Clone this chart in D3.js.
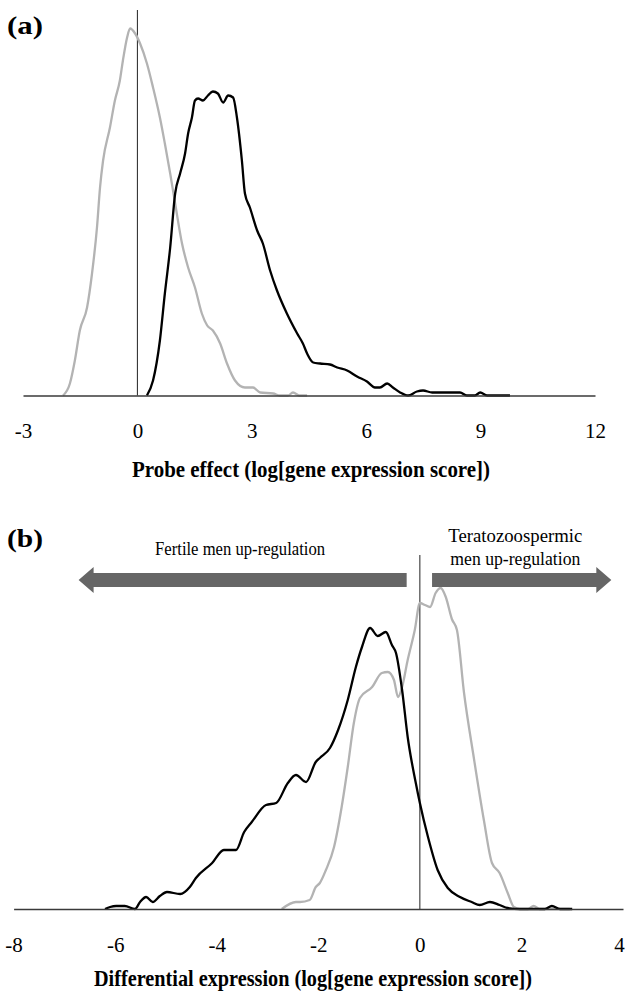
<!DOCTYPE html>
<html>
<head>
<meta charset="utf-8">
<script src="https://cdn.jsdelivr.net/npm/d3@7"></script>
<style>
  body { margin: 0; background: #fff; }
  text { font-family: "Liberation Serif", "Times New Roman", serif; fill: #000; }
</style>
</head>
<body>
<svg id="fig" width="627" height="993"></svg>
<script>
// (a) probe effect, density curves  [log score, density]
var aGray = [[-1.95,0],[-1.77,0.012],[-1.64,0.035],[-1.51,0.065],[-1.32,0.088],[-1.19,0.122],[-1.06,0.168],
  [-0.98,0.208],[-0.90,0.235],[-0.72,0.268],[-0.59,0.295],[-0.46,0.315],[-0.38,0.335],[-0.27,0.358],
  [-0.19,0.367],[-0.06,0.362],[0.07,0.352],[0.25,0.332],[0.41,0.308],[0.59,0.278],[0.72,0.252],
  [0.86,0.222],[0.99,0.192],[1.17,0.152],[1.33,0.128],[1.51,0.108],[1.69,0.082],[1.83,0.070],
  [1.98,0.065],[2.17,0.052],[2.35,0.032],[2.56,0.015],[2.82,0.008],[3.03,0.008],[3.22,0.003],
  [3.56,0.002],[3.74,0],[3.95,0],[4.08,0.003],[4.25,0],[4.45,0]];
var aBlack = [[0.25,0],[0.41,0.015],[0.59,0.055],[0.72,0.102],[0.86,0.148],[0.99,0.202],[1.12,0.222],
  [1.25,0.242],[1.33,0.262],[1.43,0.278],[1.51,0.295],[1.59,0.297],[1.72,0.295],[1.85,0.300],
  [1.98,0.304],[2.11,0.302],[2.25,0.293],[2.38,0.300],[2.51,0.298],[2.61,0.278],[2.74,0.235],
  [2.82,0.202],[2.95,0.188],[3.14,0.165],[3.29,0.152],[3.48,0.125],[3.66,0.105],[3.92,0.082],
  [4.19,0.062],[4.34,0.052],[4.45,0.042],[4.61,0.033],[4.79,0.032],[5.05,0.031],[5.24,0.028],
  [5.50,0.025],[5.76,0.019],[6.02,0.014],[6.23,0.008],[6.36,0.008],[6.55,0.012],[6.70,0.008],
  [6.89,0.003],[7.10,0],[7.33,0.004],[7.49,0.005],[7.73,0.003],[8.46,0.003],[8.64,0],[8.85,0],
  [8.99,0.003],[9.17,0],[9.77,0]];

// (b) differential expression  [log score, density]
var bBlack = [[-6.20,0],[-6.10,0.002],[-5.98,0.003],[-5.81,0.003],[-5.61,0],[-5.51,0.007],[-5.39,0.012],
  [-5.26,0.007],[-5.12,0.013],[-4.98,0.017],[-4.72,0.015],[-4.53,0.022],[-4.41,0.031],[-4.09,0.046],
  [-3.86,0.059],[-3.62,0.059],[-3.46,0.077],[-3.31,0.087],[-3.03,0.104],[-2.83,0.106],[-2.60,0.126],
  [-2.44,0.134],[-2.24,0.127],[-2.05,0.147],[-1.97,0.151],[-1.77,0.161],[-1.61,0.179],[-1.42,0.209],
  [-1.26,0.242],[-1.14,0.262],[-0.98,0.281],[-0.83,0.273],[-0.67,0.277],[-0.55,0.264],[-0.47,0.256],
  [-0.35,0.219],[-0.24,0.172],[-0.08,0.126],[0,0.106],[0.16,0.072],[0.35,0.039],[0.55,0.021],
  [0.79,0.012],[1.02,0.007],[1.18,0.004],[1.38,0.007],[1.57,0.004],[1.73,0.001],[1.97,0],[2.46,0],
  [2.60,0.003],[2.76,0],[3.00,0]];
var bGray = [[-2.72,0],[-2.44,0.007],[-2.36,0.007],[-2.17,0.009],[-2.05,0.022],[-1.97,0.026],[-1.85,0.039],
  [-1.69,0.062],[-1.54,0.102],[-1.42,0.142],[-1.30,0.186],[-1.18,0.211],[-0.94,0.222],[-0.75,0.236],
  [-0.63,0.237],[-0.51,0.229],[-0.43,0.212],[-0.35,0.222],[-0.24,0.249],[-0.10,0.279],[0,0.306],
  [0.10,0.304],[0.20,0.302],[0.31,0.316],[0.41,0.321],[0.51,0.312],[0.63,0.290],[0.73,0.279],
  [0.87,0.216],[1.06,0.152],[1.26,0.089],[1.42,0.046],[1.57,0.036],[1.73,0.016],[1.85,0.002],
  [1.97,0],[2.13,0],[2.24,0.003],[2.36,0],[2.95,0]];

var ticksA = [-3, 0, 3, 6, 9, 12];
var ticksB = [-8, -6, -4, -2, 0, 2, 4];
var titleA = "Probe effect (log[gene expression score])";
var titleB = "Differential expression (log[gene expression score])";
var leftArrowLabel = "Fertile men up-regulation";
var rightArrowLabel = ["Teratozoospermic", "men up-regulation"];
// arrow extents in log score, at density level
var leftArrow = [-0.26, -6.72], rightArrow = [0.24, 3.77], arrowLevel = 0.329;

var svg = d3.select("#fig");
var grayCol = "#b3b3b3", arrowCol = "#666666";

function panel(cfg){
	var x = d3.scaleLinear().domain(cfg.xDomain).range(cfg.xRange);
	var y = d3.scaleLinear().domain([0, cfg.yMax]).range([cfg.base, cfg.top]);
	var g = svg.append("g");

	var line = d3.line().x(function(d){ return x(d[0]); }).y(function(d){ return y(d[1]); })
		.curve(d3.curveMonotoneX);

	// zero line
	g.append("line").attr("x1", x(0)).attr("x2", x(0)).attr("y1", y(0)).attr("y2", y(cfg.yMax))
		.attr("stroke", "#222").attr("stroke-width", 1);

	cfg.series.forEach(function(s){
		g.append("path").datum(s.data).attr("d", line)
			.attr("fill", "none").attr("stroke", s.color).attr("stroke-width", 2.3)
			.attr("stroke-linejoin", "round");
	});

	var ax = g.append("g").attr("transform", "translate(0," + cfg.base + ")")
		.call(d3.axisBottom(x).tickValues(cfg.ticks).tickSize(0).tickSizeOuter(0).tickPadding(28)
			.tickFormat(function(d){ return String(d); }));
	ax.select(".domain").attr("stroke", "#3a3a3a").attr("stroke-width", 1.6);
	ax.selectAll("text").attr("font-size", 21).attr("fill", "#000");
	// last label sits on the right edge of the page
	ax.selectAll(".tick").filter(function(d){ return d === cfg.xDomain[1]; }).select("text").attr("dx", cfg.lastDx);

	g.append("text").attr("x", cfg.titleX).attr("y", cfg.titleY).attr("text-anchor", "middle")
		.attr("font-weight", "bold").attr("font-size", 23)
		.attr("textLength", cfg.titleW).attr("lengthAdjust", "spacingAndGlyphs").text(cfg.title);

	g.append("text").attr("x", 7).attr("y", cfg.tagY).attr("font-weight", "bold").attr("font-size", 26)
		.attr("textLength", 36).attr("lengthAdjust", "spacingAndGlyphs").text(cfg.tag);
	return {x: x, y: y, g: g};
}

panel({
	xDomain: [-3, 12], xRange: [23, 595], yMax: 0.3855, base: 395.5, top: 10,
	ticks: ticksA, title: titleA, titleX: 311, titleY: 477, titleW: 358, tag: "(a)", tagY: 34, lastDx: 0,
	series: [{data: aGray, color: grayCol}, {data: aBlack, color: "#000"}]
});

var pb = panel({
	xDomain: [-8, 4], xRange: [13.6, 623], yMax: 0.354, base: 909, top: 555,
	ticks: ticksB, title: titleB, titleX: 313, titleY: 986, titleW: 438, tag: "(b)", tagY: 547, lastDx: -4,
	series: [{data: bGray, color: grayCol}, {data: bBlack, color: "#000"}]
});

// direction arrows
function arrow(g, x0, x1, yy){
	var dir = x1 > x0 ? 1 : -1, half = 7, headH = 13, headL = 15;
	var xb = x1 - dir * headL;
	var pts = [[x0, yy - half], [xb, yy - half], [xb, yy - headH], [x1, yy], [xb, yy + headH], [xb, yy + half], [x0, yy + half]];
	g.append("polygon").attr("points", pts.map(function(p){ return p.join(","); }).join(" "))
		.attr("fill", arrowCol);
}
arrow(pb.g, pb.x(leftArrow[0]), pb.x(leftArrow[1]), pb.y(arrowLevel));
arrow(pb.g, pb.x(rightArrow[0]), pb.x(rightArrow[1]), pb.y(arrowLevel));

pb.g.append("text").attr("x", pb.x(-3.54)).attr("y", 555).attr("text-anchor", "middle")
	.attr("font-size", 18).attr("textLength", 170).attr("lengthAdjust", "spacingAndGlyphs")
	.text(leftArrowLabel);
pb.g.selectAll(".rlab").data(rightArrowLabel).enter().append("text")
	.attr("x", pb.x(1.88)).attr("y", function(d, i){ return 542 + i * 23; })
	.attr("text-anchor", "middle").attr("font-size", 18)
	.attr("textLength", function(d, i){ return i ? 130 : 134; }).attr("lengthAdjust", "spacingAndGlyphs")
	.text(function(d){ return d; });
</script>
</body>
</html>
